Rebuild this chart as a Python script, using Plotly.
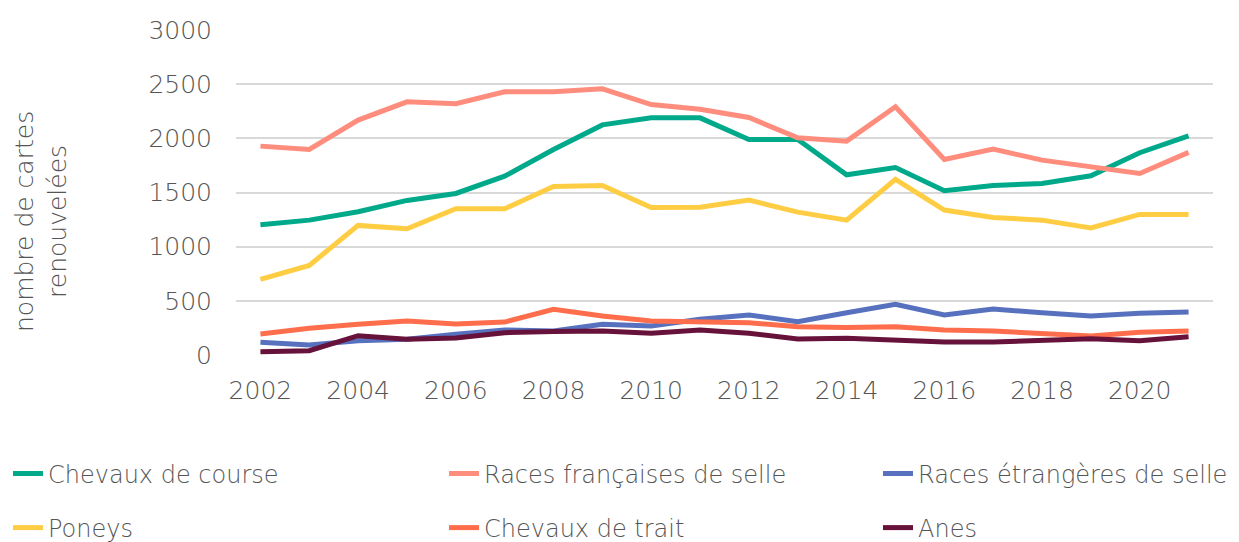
import plotly.graph_objects as go

years = list(range(2002, 2022))

chevaux_course = [1202, 1245, 1322, 1427, 1491, 1651, 1897, 2124, 2189, 2189,
                  1990, 1990, 1663, 1731, 1516, 1565, 1584, 1654, 1867, 2023]
races_fr_selle = [1928, 1897, 2168, 2337, 2319, 2429, 2429, 2457, 2312, 2269,
                  2192, 2005, 1974, 2291, 1805, 1900, 1799, 1737, 1676, 1870]
races_etr_selle = [117, 92, 132, 145, 191, 231, 221, 283, 268, 329,
                   369, 307, 390, 468, 369, 424, 390, 360, 385, 397]
poneys = [698, 827, 1196, 1165, 1350, 1350, 1556, 1565, 1362, 1365,
          1430, 1319, 1245, 1621, 1338, 1270, 1245, 1172, 1298, 1298]
chevaux_trait = [194, 246, 283, 314, 286, 304, 421, 360, 314, 308,
                 298, 261, 255, 261, 231, 221, 200, 175, 209, 221]
anes = [30, 40, 178, 145, 157, 206, 218, 221, 200, 231,
        200, 148, 154, 138, 120, 120, 138, 150, 132, 169]

# name, values, colour, legend id
series = [
    ("Chevaux de course", chevaux_course, "#00A98A", "legend"),
    ("Races françaises de selle", races_fr_selle, "#FF8D7E", "legend2"),
    ("Races étrangères de selle", races_etr_selle, "#5771BE", "legend3"),
    ("Poneys", poneys, "#FFCD44", "legend4"),
    ("Chevaux de trait", chevaux_trait, "#FF6E4C", "legend5"),
    ("Anes", anes, "#66123A", "legend6"),
]

FONT = "DejaVu Sans"
GREY = "#555555"
W, H = 1231, 534  # page body adds 8px around the figure

fig = go.Figure()
for name, vals, col, leg in series:
    fig.add_trace(go.Scatter(x=years, y=vals, name=name, mode="lines",
                             line=dict(color=col, width=5), legend=leg,
                             showlegend=True))

def leg(col, row):
    return dict(orientation="h", xref="container", yref="container",
                x=[0, 436, 870][col] / W, y=1 - [466, 520][row] / H,
                xanchor="left", yanchor="middle", visible=True,
                font=dict(family=FONT, size=24, color=GREY, weight=200),
                bgcolor="rgba(0,0,0,0)")

fig.update_layout(
    width=W, height=H,
    showlegend=True,
    margin=dict(l=228, r=26, t=22, b=187, autoexpand=False),
    plot_bgcolor="white", paper_bgcolor="white",
    font=dict(family=FONT, size=25, color=GREY, weight=200),
    legend=leg(0, 0), legend2=leg(1, 0), legend3=leg(2, 0),
    legend4=leg(0, 1), legend5=leg(1, 1), legend6=leg(2, 1),
    xaxis=dict(range=[2001.5, 2021.5], tickvals=list(range(2002, 2021, 2)),
               showgrid=False, zeroline=False, showline=False,
               ticks="outside", ticklen=13, tickcolor="rgba(0,0,0,0)",
               tickfont=dict(family=FONT, size=25, color=GREY, weight=200)),
    yaxis=dict(range=[0, 3000], dtick=500, showgrid=True, gridcolor="#d9d9d9",
               gridwidth=1.5, zeroline=False, showline=False,
               ticks="outside", ticklen=18, tickcolor="rgba(0,0,0,0)",
               tickfont=dict(family=FONT, size=25, color=GREY, weight=200)),
    annotations=[dict(text="nombre de cartes<br>renouvelées", textangle=-90,
                      xref="paper", yref="paper", x=(33 - 228) / 977,
                      y=(347 - 214) / 325, showarrow=False,
                      xanchor="center", yanchor="middle",
                      font=dict(family=FONT, size=25, color=GREY, weight=200))],
)

fig.write_html("out.html")
